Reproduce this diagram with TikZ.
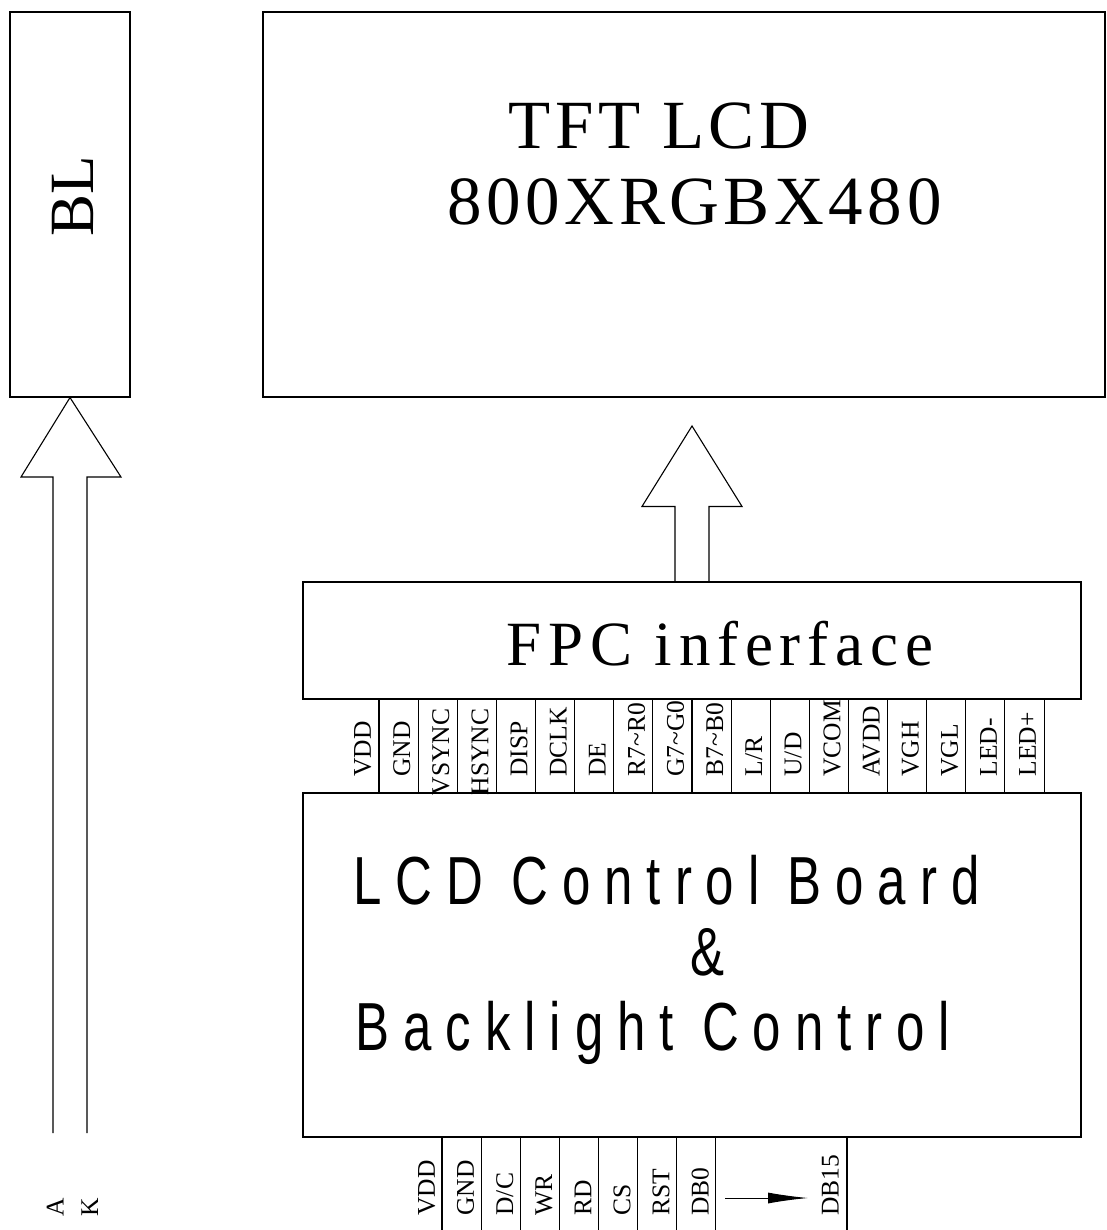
\documentclass[tikz,border=0pt]{standalone}
\usepackage{fontspec}
\setmainfont{Liberation Serif}
\newfontfamily\titlefont{Liberation Serif}[LetterSpace=6.6]
\newfontfamily\fpcfont{Liberation Serif}[LetterSpace=10.8]
\newfontfamily\cbfont{Liberation Sans}[FakeStretch=0.75,LetterSpace=20.5]
\usetikzlibrary{arrows.meta,calc}
\begin{document}
\begin{tikzpicture}[x=1pt,y=-1pt,line width=1.1pt,
  box/.style={draw,inner sep=0pt},
  pin/.style={rotate=90,anchor=base west,inner sep=0pt,font=\fontsize{25.5}{26}\selectfont},
  pinc/.style={rotate=90,anchor=base,inner sep=0pt,font=\fontsize{25.5}{26}\selectfont},
  bigtxt/.style={anchor=base west,inner sep=0pt,font=\fontsize{69}{70}\titlefont},
  cbtxt/.style={anchor=base west,inner sep=0pt,font=\fontsize{68}{69}\cbfont}]
\useasboundingbox (0,0) rectangle (1107,1230);
% boxes
\node[box,minimum width=120pt,minimum height=385pt] (bl) at (70,204.5) {};
\node[box,minimum width=842pt,minimum height=385pt] (tft) at (684,204.5) {};
\node[box,minimum width=778pt,minimum height=117pt] (fpc) at (692,640.5) {};
\node[box,minimum width=778pt,minimum height=344pt] (cb) at (692,965) {};
% texts
\node[rotate=90,anchor=base,inner sep=0pt,font=\fontsize{63}{64}\selectfont] (bltxt) at (93,196) {BL};
\node[bigtxt] (t1) at (508,149) {TFT LCD};
\node[bigtxt] (t2) at (447,225) {800XRGBX480};
\node[anchor=base west,inner sep=0pt,font=\fontsize{63}{64}\fpcfont] (fpctxt) at (506,665) {FPC inferface};
\node[cbtxt] (c1) at (353,904) {LCD Control Board};
\node[cbtxt] (c2) at (690,975) {\&};
\node[cbtxt] (c3) at (355,1050) {Backlight Control};
% left fat arrow
\coordinate (lk1) at (53,1133);
\coordinate (lk2) at (87,1133);
\draw (lk1) -- (53,477) -- (21,477) -- (bl.south) -- (121,477) -- (87,477) -- (lk2);
\node[pin] (la) at (63.5,1217) {A};
\node[pin] (lkk) at (98,1217) {K};
% right fat arrow
\coordinate (rtip) at (692,426);
\draw ($(fpc.north)+(-17,0)$) -- ++(0,-75) -- ++(-33,0) -- (rtip)
      -- ($(fpc.north)+(50,-75)$) -- ++(-33,0) -- ($(fpc.north)+(17,0)$);
% top pins
\foreach \k in {0,...,17}{
  \pgfmathsetmacro\xx{379+39.12*\k}
  \draw (\xx,699) -- (\xx,793);
}
\foreach \t [count=\i from 0] in {VDD,GND,,,DISP,DCLK,DE,R7\textasciitilde R0,G7\textasciitilde G0,B7\textasciitilde B0,L/R,U/D,VCOM,AVDD,VGH,VGL,LED-,LED+}{
  \pgfmathsetmacro\xb{379+39.12*(\i-0.5)+11.5}
  \node[pin] (tp\i) at (\xb,777) {\t};
}
\pgfmathsetmacro\xv{379+39.12*1.5+11.5}
\pgfmathsetmacro\xh{379+39.12*2.5+11.5}
\node[pinc] (tpv) at (\xv,752) {VSYNC};
\node[pinc] (tph) at (\xh,752) {HSYNC};
% bottom pins
\foreach \x in {442,481.1,520.2,559.3,598.4,637.5,676.6,715.7,847}{
  \draw (\x,1137) -- (\x,1230);
}
\foreach \t [count=\i from 0] in {VDD,GND,D/C,WR,RD,CS,RST,DB0}{
  \pgfmathsetmacro\xb{442+39.1*(\i-0.5)+12.4}
  \node[pin] (bp\i) at (\xb,1216) {\t};
}
\node[pin] (bp15) at (838.5,1216) {DB15};
\coordinate (ds) at (725,1198);
\coordinate (de) at (808,1198);
\draw[line width=1pt,-{Latex[length=40pt,width=11pt]}] (ds) -- (de);
\end{tikzpicture}
\end{document}
